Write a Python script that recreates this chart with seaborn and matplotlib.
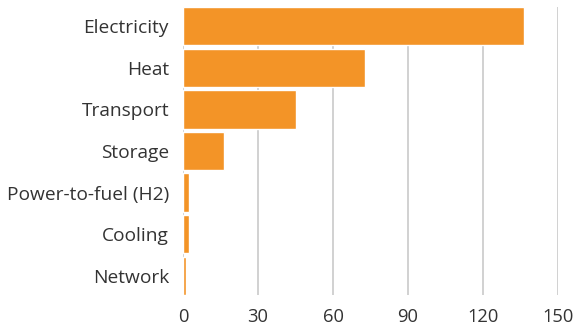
import matplotlib
matplotlib.use("Agg")
import matplotlib.pyplot as plt
import seaborn as sns
import pandas as pd

categories = ["Electricity", "Heat", "Transport", "Storage",
              "Power-to-fuel (H2)", "Cooling", "Network"]
values = [136.4, 72.8, 45.2, 16.3, 2.4, 2.4, 1.2]
x_ticks = [0, 30, 60, 90, 120, 150]

df = pd.DataFrame({"sector": categories, "value": values})

sns.set_theme(style="white")
plt.rcParams["font.family"] = ["Open Sans", "DejaVu Sans"]

fig = plt.figure(figsize=(5.8, 3.26), dpi=100)
ax = fig.add_axes([183 / 580, 1 - 295 / 326, 375 / 580, 288 / 326])

sns.barplot(data=df, x="value", y="sector", color="#F39427",
            saturation=1, width=0.92, ax=ax, zorder=3)

ax.set_xlim(0, 150)
ax.set_ylim(6.46, -0.46)
ax.set_xticks(x_ticks)
ax.set_xticklabels([str(t) for t in x_ticks])
ax.grid(axis="x", color="#c9c9c9", linewidth=1.2, zorder=0)
ax.grid(axis="y", visible=False)
for s in ax.spines.values():
    s.set_visible(False)
ax.set_xlabel("")
ax.set_ylabel("")
ax.tick_params(axis="both", length=0, labelcolor="#333333")
ax.tick_params(axis="y", pad=10, labelsize=13.8)
ax.tick_params(axis="x", pad=9, labelsize=13.2)

fig.savefig("out.png", dpi=100)
